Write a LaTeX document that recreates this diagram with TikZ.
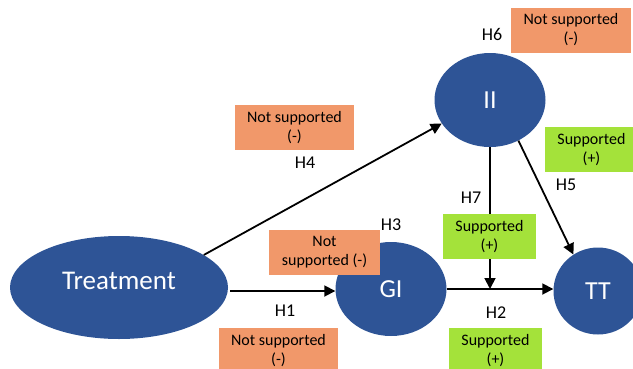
\documentclass[tikz,border=0pt]{standalone}
\usepackage{fontspec}
\setmainfont{Carlito}
\usetikzlibrary{positioning, arrows.meta, shapes.geometric}

\definecolor{nodeblue}{RGB}{46,84,150}
\definecolor{notsup}{RGB}{241,152,106}
\definecolor{sup}{RGB}{164,226,58}

\begin{document}
\begin{tikzpicture}[x=1pt, y=-1pt]

		\tikzstyle{construct} = [ellipse, fill=nodeblue, text=white, inner sep=0pt, minimum width=111pt, minimum height=94pt, font=\fontsize{26}{30}\selectfont]
		\tikzstyle{verdict} = [rectangle, inner sep=0pt, minimum height=45pt, align=center, font=\fontsize{16}{19}\selectfont]
		\tikzstyle{hyp} = [inner sep=0pt, font=\fontsize{18}{20}\selectfont]
		\tikzstyle{path} = [line width=1.8pt, -{Triangle[length=11pt, width=11pt]}]

		\clip (0,0) rectangle (633,368);

		% Define nodes
		\node[construct, minimum width=218pt, minimum height=103pt, text depth=14pt, font=\fontsize{27}{30}\selectfont] (treat) at (119,287.5) {Treatment};
		\node[construct] (gi) at (391,289) {GI};
		\node[construct] (ii) at (490,100) {II};
		\node[construct, minimum width=89pt, minimum height=87pt] (tt) at (598,291) {TT};

		% Draw arrows
		\draw[path, shorten <=2pt] (treat.east |- 0,291) -- (gi.west |- 0,291);
		\draw[path] (treat.21) -- (ii.206);
		\draw[path] (gi.east) -- (gi.east -| tt.west);
		\draw[path] (ii.305) -- (tt.124);
		\coordinate (meet) at (ii.south |- gi.east);
		\draw[path] (ii.south) -- (meet);

		% Verdict boxes
		\node[verdict, fill=notsup, minimum width=120pt] (v6) at (571,30) {Not supported\\(-)};
		\node[verdict, fill=notsup, minimum width=119pt] (v4) at (294.5,127.5) {Not supported\\(-)};
		\node[verdict, fill=notsup, minimum width=111pt] (v3) at (324.5,252.5) {Not\\supported (-)};
		\node[verdict, fill=notsup, minimum width=119pt] (v1) at (278.5,350.5) {Not supported\\(-)};
		\node[verdict, fill=sup, minimum width=93pt] (v5) at (591.5,149.5) {Supported\\(+)};
		\node[verdict, fill=sup, minimum width=93pt] (v7) at (489.5,236.5) {Supported\\(+)};
		\node[verdict, fill=sup, minimum width=93pt] (v2) at (495.5,350.5) {Supported\\(+)};

		% Hypothesis labels
		\node[hyp] (h6) at (492,34) {H6};
		\node[hyp] (h4) at (305,163) {H4};
		\node[hyp] (h5) at (566,185) {H5};
		\node[hyp] (h7) at (471,198) {H7};
		\node[hyp] (h3) at (391,225) {H3};
		\node[hyp] (h1) at (285,311) {H1};
		\node[hyp] (h2) at (496,313) {H2};

\end{tikzpicture}
\end{document}
